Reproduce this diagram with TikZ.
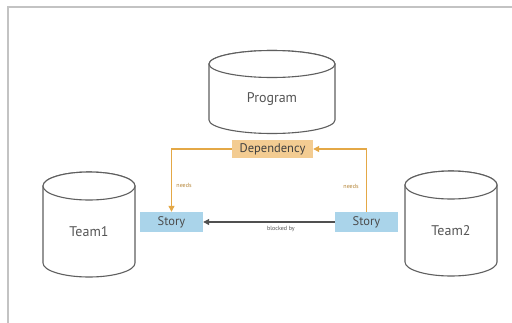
\documentclass[tikz,border=0pt]{standalone}
\usepackage{fontspec}
\setmainfont{PT Sans}
\usetikzlibrary{arrows.meta}
\definecolor{cylline}{RGB}{95,95,95}
\definecolor{txtgray}{RGB}{85,85,85}
\definecolor{depfill}{RGB}{243,204,146}
\definecolor{storyfill}{RGB}{170,212,234}
\definecolor{orangeline}{RGB}{228,168,70}
\definecolor{darkline}{RGB}{80,80,80}
\definecolor{framegray}{RGB}{195,195,195}
\tikzset{
  cyl/.style={draw=cylline, line width=1.1pt, fill=white},
  cyltext/.style={font=\fontsize{14}{16}\selectfont, text=txtgray},
  depbox/.style={fill=depfill, minimum width=81pt, minimum height=18pt, inner sep=0pt, font=\fontsize{12.5}{14}\selectfont, text=black!75},
  storybox/.style={fill=storyfill, minimum width=63pt, minimum height=20pt, inner sep=0pt, font=\fontsize{12.5}{14}\selectfont, text=black!70},
  orangearrow/.style={draw=orangeline, line width=1.1pt, -{Triangle[width=6pt,length=6pt]}},
  grayarrow/.style={draw=darkline, line width=1.1pt, -{Triangle[width=6pt,length=6pt]}},
  smalllabel/.style={font=\fontsize{6}{7}\selectfont, inner sep=1pt},
}
\newcommand{\mycyl}[5]{% cx, rx, ytop, ybot, ry
  \path[cyl] (#1-#2,#3) -- (#1-#2,#4) arc[start angle=180,end angle=360,x radius=#2,y radius=-#5] -- (#1+#2,#3) arc[start angle=0,end angle=180,x radius=#2,y radius=-#5] -- cycle;
  \draw[cyl] (#1,#3) ellipse[x radius=#2,y radius=#5];
}
\begin{document}
\begin{tikzpicture}[x=1pt,y=-1pt]
\useasboundingbox (0,0) rectangle (512,322);
\fill[white] (0,0) rectangle (512,322);
\draw[framegray, line width=1.6pt] (8,330) -- (8,7) -- (520,7);

% cylinders
\mycyl{272}{63}{64}{120}{13.5}
\mycyl{89}{46}{186}{263}{14}
\mycyl{451}{46}{185}{262}{14}
\node[cyltext] (program) at (272,99) {Program};
\node[cyltext] (team1) at (89,232) {Team1};
\node[cyltext] (team2) at (451,231) {Team2};

% boxes
\node[depbox] (dep) at (272.5,149) {Dependency};
\node[storybox] (story1) at (171.5,222) {Story};
\node[storybox] (story2) at (366.5,222) {Story};

% connectors
\draw[orangearrow] (dep.west) -| (story1.north);
\draw[orangearrow] (story2.north) |- (dep.east);
\draw[grayarrow] (story2.west) -- (story1.east);

\node[smalllabel, text=orangeline!80!black] (needs1) at (184,185) {needs};
\node[smalllabel, text=orangeline!80!black] (needs2) at (351,186) {needs};
\node[smalllabel, text=darkline] (blocked) at (281,229) {blocked by};
\end{tikzpicture}
\end{document}
